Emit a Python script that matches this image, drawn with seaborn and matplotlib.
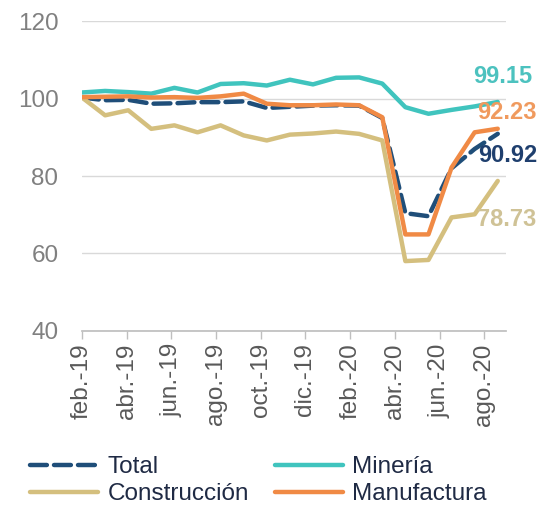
import numpy as np
import pandas as pd
import matplotlib
matplotlib.use("Agg")
import matplotlib.pyplot as plt
import seaborn as sns

# monthly index values, feb-19 .. ago-20
months = ['feb-19', 'mar-19', 'abr-19', 'may-19', 'jun-19', 'jul-19', 'ago-19',
          'sep-19', 'oct-19', 'nov-19', 'dic-19', 'ene-20', 'feb-20', 'mar-20',
          'abr-20', 'may-20', 'jun-20', 'jul-20', 'ago-20']
total = [100.3, 99.6, 99.7, 98.7, 98.8, 99.1, 99.1, 99.3, 97.6, 97.9,
         98.2, 98.3, 98.2, 95.0, 70.4, 69.6, 82.0, 87.0, 90.92]
mineria = [101.6, 102.0, 101.7, 101.3, 102.8, 101.6, 103.8, 104.0, 103.4, 104.9,
           103.7, 105.4, 105.5, 103.9, 97.8, 96.1, 97.1, 98.0, 99.15]
construccion = [100.3, 95.7, 97.0, 92.2, 93.1, 91.3, 93.1, 90.5, 89.2, 90.7,
                91.0, 91.5, 90.9, 89.2, 58.0, 58.3, 69.3, 70.1, 78.73]
manufactura = [100.4, 100.5, 100.6, 100.3, 100.4, 100.2, 100.6, 101.3, 98.7, 98.3,
               98.3, 98.5, 98.3, 95.2, 64.9, 64.9, 82.2, 91.3, 92.23]
tick_labels = ['feb.-19', 'abr.-19', 'jun.-19', 'ago.-19', 'oct.-19',
               'dic.-19', 'feb.-20', 'abr.-20', 'jun.-20', 'ago.-20']

order = ['Total', 'Construcción', 'Minería', 'Manufactura']
colors = {'Total': '#1F4E79', 'Minería': '#40C4BE',
          'Construcción': '#D4BF7E', 'Manufactura': '#F08A45'}
label_colors = {'Total': '#1F3F6E', 'Minería': '#4CC2BF',
                'Construcción': '#CFC296', 'Manufactura': '#F09A5E'}

df = pd.DataFrame({'idx': np.arange(len(months)), 'Total': total, 'Minería': mineria,
                   'Construcción': construccion, 'Manufactura': manufactura})
long = df.melt(id_vars='idx', var_name='serie', value_name='valor')

sns.set_theme(style="white")
plt.rcParams['font.family'] = ['Liberation Sans', 'DejaVu Sans']

fig = plt.figure(figsize=(5.41, 5.08), dpi=100)
ax = fig.add_axes([0.1516, 0.349, 0.935 - 0.1516, 0.958 - 0.349])

sns.lineplot(data=long, x='idx', y='valor', hue='serie', style='serie',
             hue_order=order, style_order=order, palette=colors,
             dashes={'Total': (3.8, 1.6), 'Minería': '', 'Construcción': '',
                     'Manufactura': ''},
             linewidth=3.2, ax=ax, legend=True)
for line in ax.get_lines():
    line.set_dash_capstyle('round')

ax.set_xlim(0, 18.35)
ax.set_ylim(40, 120)
ax.set_yticks([40, 60, 80, 100, 120])
ax.set_xticks(np.arange(len(tick_labels)) * 1.935)
ax.set_xticklabels(tick_labels, rotation=90, fontsize=17.5, color='#595959')
ax.tick_params(axis='y', labelsize=17.5, labelcolor='#808080', length=0, pad=17)
ax.tick_params(axis='x', length=6, width=1, color='#BFBFBF', pad=3, bottom=True)
ax.set_xlabel('')
ax.set_ylabel('')
ax.yaxis.grid(True, color='#D9D9D9', linewidth=1)
ax.set_axisbelow(True)
for s in ['top', 'right', 'left']:
    ax.spines[s].set_visible(False)
ax.spines['bottom'].set_color('#BFBFBF')

# end-of-series value labels
last = len(months) - 1
ends = [('Minería', mineria[-1], 0.2, 6.6), ('Manufactura', manufactura[-1], 0.4, 4.3),
        ('Total', total[-1], 0.45, -5.6), ('Construcción', construccion[-1], 0.4, -10.0)]
for name, val, dx, dy in ends:
    ax.text(last + dx, val + dy, f"{val:.2f}", color=label_colors[name], fontsize=17,
            fontweight='bold', ha='center', va='center', clip_on=False)

handles, labels = ax.get_legend_handles_labels()
ax.legend(handles, labels, ncol=2, loc='upper left', bbox_to_anchor=(0.055, 0.102),
          bbox_transform=fig.transFigure, frameon=False, fontsize=17.5,
          handlelength=2.8, handletextpad=0.4, columnspacing=1.05,
          labelspacing=0.2, borderpad=0, borderaxespad=0, labelcolor='#1F2A44')

fig.savefig("out.png", dpi=100)
